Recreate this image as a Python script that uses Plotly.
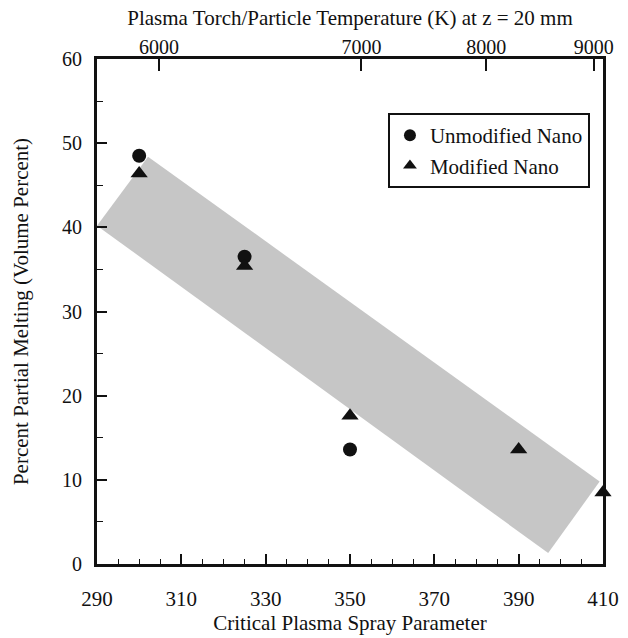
import plotly.graph_objects as go

# Data
unmod_x = [300, 325, 350]
unmod_y = [48.5, 36.5, 13.6]
mod_x = [300, 325, 350, 390, 410]
mod_y = [46.4, 35.4, 17.6, 13.6, 8.5]

# shaded band (parallelogram) corners in data coordinates
band_x = [290, 302.1, 409.2, 397.0, 290]
band_y = [40.2, 48.4, 9.8, 1.3, 40.2]

# bottom axis ticks
x_ticks = [290, 310, 330, 350, 370, 390, 410]
y_ticks = [0, 10, 20, 30, 40, 50, 60]
# top axis: temperature labels placed at equivalent spray-parameter positions
top_tick_pos = [304.7, 352.7, 382.3, 407.8]
top_tick_text = ["6000", "7000", "8000", "9000"]

FONT = "Liberation Serif"
INK = "#111111"

fig = go.Figure()

fig.add_trace(go.Scatter(
    x=band_x, y=band_y, mode="lines", fill="toself",
    fillcolor="#c6c6c6", line=dict(width=0), hoverinfo="skip",
    showlegend=False))

fig.add_trace(go.Scatter(
    x=unmod_x, y=unmod_y, mode="markers", name="Unmodified Nano",
    marker=dict(symbol="circle", size=14, color=INK), cliponaxis=False))

fig.add_trace(go.Scatter(
    x=mod_x, y=mod_y, mode="markers", name="Modified Nano",
    marker=dict(symbol="triangle-up", size=15, color=INK), cliponaxis=False))

# invisible trace to activate top axis
fig.add_trace(go.Scatter(x=[290], y=[0], xaxis="x2", mode="markers",
                         marker=dict(opacity=0), showlegend=False,
                         hoverinfo="skip"))

fig.update_layout(
    width=628, height=638,
    margin=dict(l=97, r=25, t=59, b=74),
    paper_bgcolor="white", plot_bgcolor="white",
    font=dict(family=FONT, color=INK, size=20),
    showlegend=True,
    legend=dict(x=0.575, y=0.893, xanchor="left", yanchor="top",
                bordercolor=INK, borderwidth=2, bgcolor="white",
                font=dict(family=FONT, size=21, color=INK),
                itemsizing="constant", tracegroupgap=0, itemwidth=30),
    xaxis=dict(range=[290, 410], tickvals=x_ticks, automargin=False,
               ticks="inside", ticklen=10, tickwidth=1.5, tickcolor=INK,
               minor=dict(dtick=5, tick0=290, ticks="inside", ticklen=5,
                          tickwidth=1.2, tickcolor=INK),
               showline=True, linewidth=3, linecolor=INK, mirror=True,
               showgrid=False, zeroline=False,
               tickfont=dict(size=21), ticklabelstandoff=14,
               title=dict(text="Critical Plasma Spray Parameter",
                          font=dict(size=21), standoff=6)),
    xaxis2=dict(range=[290, 410], overlaying="x", side="top", automargin=False,
                tickvals=top_tick_pos, ticktext=top_tick_text,
                ticks="inside", ticklen=12, tickwidth=1.5, tickcolor=INK,
                showline=False, showgrid=False, zeroline=False,
                tickfont=dict(size=20),
                title=dict(text="Plasma Torch/Particle Temperature (K) at z = 20 mm",
                           font=dict(size=21), standoff=4)),
    yaxis=dict(range=[0, 60], tickvals=y_ticks, automargin=False,
               ticks="inside", ticklen=10, tickwidth=1.5, tickcolor=INK,
               minor=dict(dtick=5, tick0=0, ticks="inside", ticklen=6,
                          tickwidth=1.2, tickcolor=INK),
               showline=True, linewidth=3, linecolor=INK, mirror=True,
               showgrid=False, zeroline=False,
               tickfont=dict(size=20), ticklabelstandoff=8,
               title=dict(text="Percent Partial Melting (Volume Percent)",
                          font=dict(size=21), standoff=28)),
)

fig.write_html("out.html")
